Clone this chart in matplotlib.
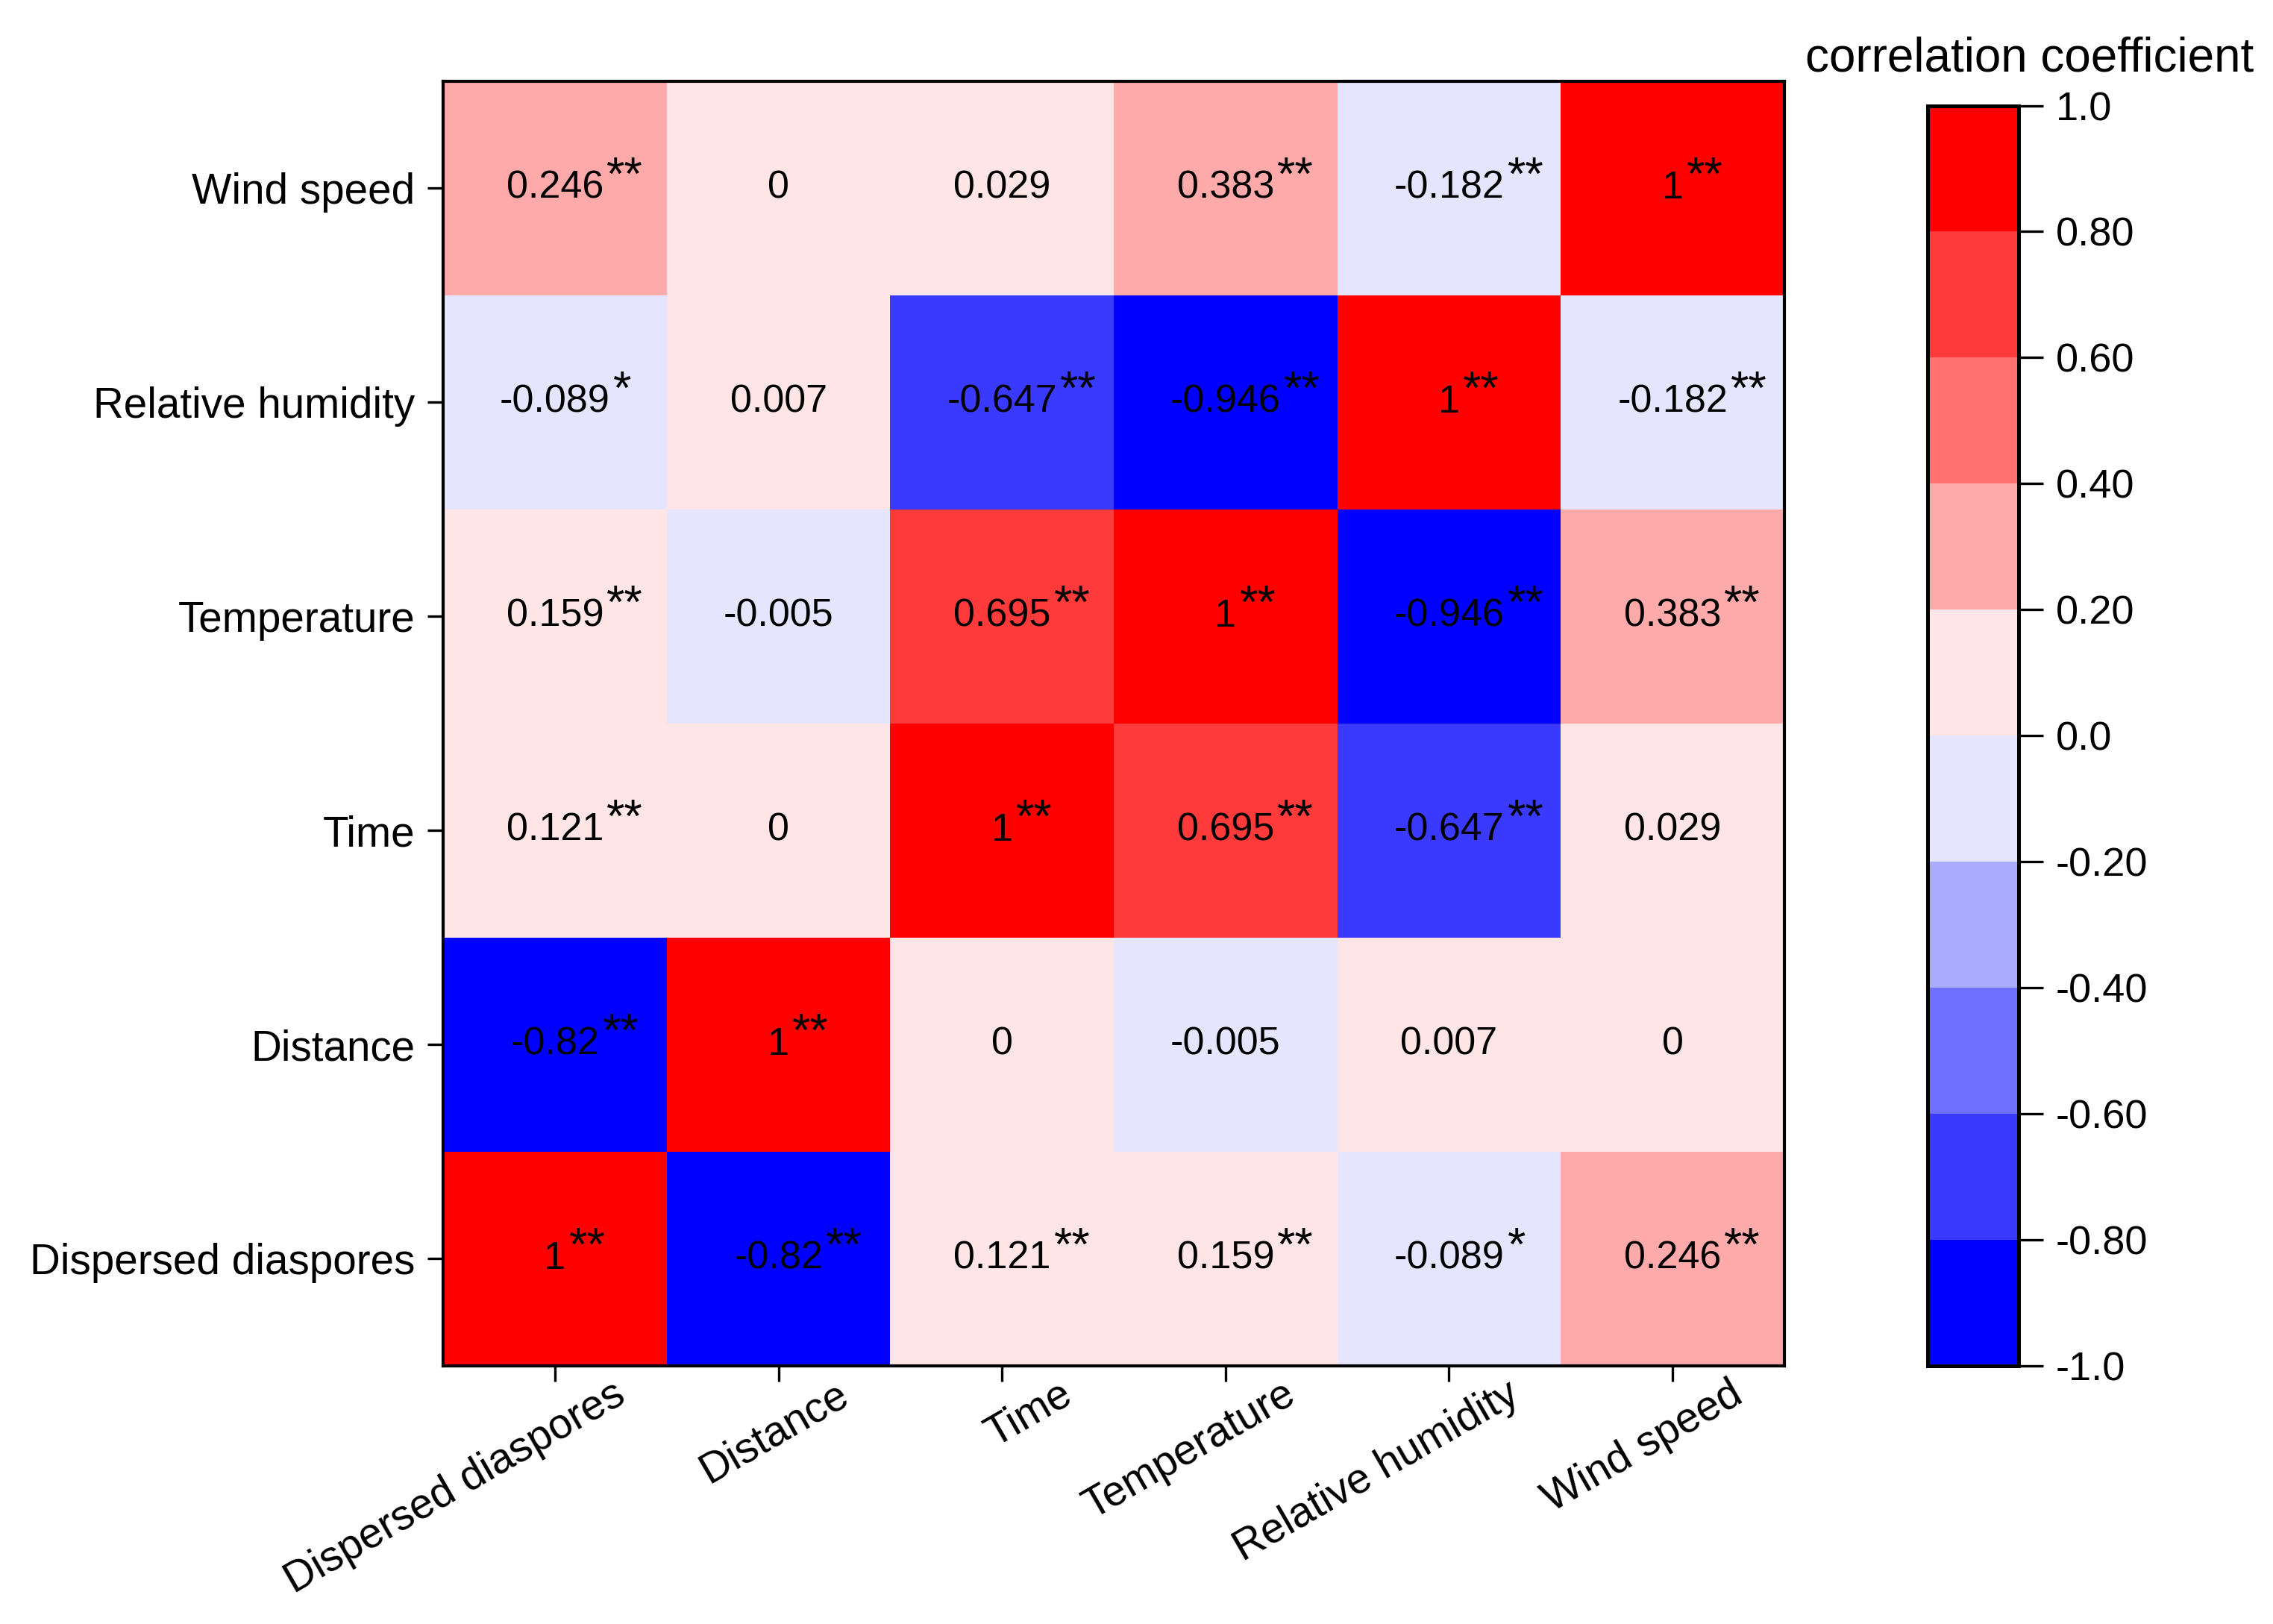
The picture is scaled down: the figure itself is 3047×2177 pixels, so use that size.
import numpy as np
import matplotlib
matplotlib.use("Agg")
import matplotlib.pyplot as plt
import matplotlib.transforms as mtransforms
from matplotlib.colors import ListedColormap, BoundaryNorm

plt.rcParams['font.family'] = ['Liberation Sans', 'DejaVu Sans']

### variables, bottom row first / left column first
variables = ["Dispersed diaspores", "Distance", "Time",
             "Temperature", "Relative humidity", "Wind speed"]

r_dd = [1, -0.82, 0.121, 0.159, -0.089, 0.246]
r_dist = [-0.82, 1, 0, -0.005, 0.007, 0]
r_time = [0.121, 0, 1, 0.695, -0.647, 0.029]
r_temp = [0.159, -0.005, 0.695, 1, -0.946, 0.383]
r_rh = [-0.089, 0.007, -0.647, -0.946, 1, -0.182]
r_ws = [0.246, 0, 0.029, 0.383, -0.182, 1]

s_dd = ["**", "**", "**", "**", "*", "**"]
s_dist = ["**", "**", "", "", "", ""]
s_time = ["**", "", "**", "**", "**", ""]
s_temp = ["**", "", "**", "**", "**", "**"]
s_rh = ["*", "", "**", "**", "**", "**"]
s_ws = ["**", "", "", "**", "**", "**"]

cbar_ticks = [-1.0, -0.8, -0.6, -0.4, -0.2, 0.0, 0.2, 0.4, 0.6, 0.8, 1.0]
cbar_labels = ["-1.0", "-0.80", "-0.60", "-0.40", "-0.20", "0.0",
               "0.20", "0.40", "0.60", "0.80", "1.0"]

R = np.array([r_dd, r_dist, r_time, r_temp, r_rh, r_ws])
S = [s_dd, s_dist, s_time, s_temp, s_rh, s_ws]

colors = ["#0000FF", "#3A3AFF", "#7070FF", "#AAAAFF", "#E5E5FF",
          "#FFE5E5", "#FFAAAA", "#FF7070", "#FF3A3A", "#FF0000"]
cmap = ListedColormap(colors)
norm = BoundaryNorm(cbar_ticks, cmap.N)

fig = plt.figure(figsize=(3047 / 300, 2177 / 300), dpi=300)
ax = fig.add_axes([0.195, 0.159, 0.59, 0.791])
cax = fig.add_axes([0.848, 0.159, 0.040, 0.776])

n = len(variables)
mesh = ax.pcolormesh(np.arange(n + 1) - 0.5, np.arange(n + 1) - 0.5, R,
                     cmap=cmap, norm=norm)
ax.set_xlim(-0.5, n - 0.5)
ax.set_ylim(-0.5, n - 0.5)

for i in range(n):
    for j in range(n):
        v = R[i, j]
        txt = "%g" % v
        t = ax.text(j, i, txt, ha="center", va="center", fontsize=12.5)
        if S[i][j]:
            ax.annotate(S[i][j], xy=(1.0, 0.3), xycoords=t,
                        xytext=(1.0, -1.2), textcoords="offset points",
                        ha="left", va="bottom", fontsize=15)

ax.set_xticks(range(n))
ax.set_yticks(range(n))
ax.set_yticklabels(variables, fontsize=13.6)
ax.set_xticklabels([])
# x labels drawn by hand so they sit right of the ticks like the original
base = mtransforms.blended_transform_factory(ax.transData, ax.transAxes)
shift = mtransforms.ScaledTranslation(18.3 / 72, -2.6 / 72, fig.dpi_scale_trans)
for j, name in enumerate(variables):
    ax.text(j, 0, name, transform=base + shift, fontsize=13.6, rotation=30,
            ha="right", va="top", rotation_mode="anchor")
ax.tick_params(axis="both", direction="out", length=5, width=0.8, pad=4)
for sp in ax.spines.values():
    sp.set_linewidth(1.0)

cb = fig.colorbar(mesh, cax=cax, ticks=cbar_ticks)
cb.ax.set_yticklabels(cbar_labels, fontsize=13)
cb.ax.tick_params(length=8, width=0.8, pad=4)
cb.outline.set_linewidth(1.2)
fig.text(0.893, 0.964, "correlation coefficient", ha="center", va="center",
         fontsize=15.3)

fig.savefig("out.png", dpi=300)
